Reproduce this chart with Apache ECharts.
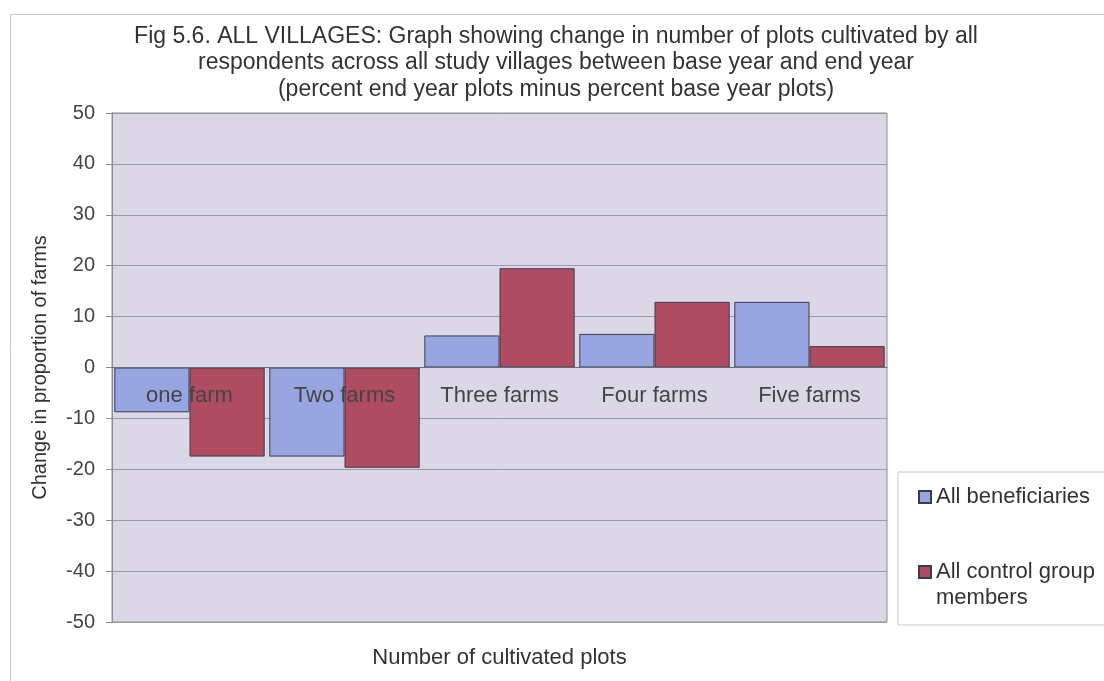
<!DOCTYPE html>
<html>
<head>
<meta charset="utf-8">
<script src="https://cdn.jsdelivr.net/npm/echarts@6/dist/echarts.min.js"></script>
<style>
html,body{margin:0;padding:0;background:#fff;}
#chart{width:1104px;height:681px;}
</style>
</head>
<body>
<div id="chart"></div>
<script>
var categories = ['one farm', 'Two farms', 'Three farms', 'Four farms', 'Five farms'];
var beneficiaries = [-8.8, -17.5, 6.3, 6.6, 12.9];
var controlGroup = [-17.5, -19.7, 19.5, 12.9, 4.2];
var seriesNames = ['All beneficiaries', 'All control group members'];
var yTicks = { min: -50, max: 50, interval: 10 };

var FONT = '"Liberation Sans", Arial, sans-serif';
var chart = echarts.init(document.getElementById('chart'));
chart.setOption({
  animation: false,
  backgroundColor: '#ffffff',
  textStyle: { fontFamily: FONT },
  graphic: [
    { type: 'line', shape: { x1: 10, y1: 14.5, x2: 1104, y2: 14.5 }, style: { stroke: '#c8c8c8', lineWidth: 1 } },
    { type: 'line', shape: { x1: 10.5, y1: 14, x2: 10.5, y2: 681 }, style: { stroke: '#c8c8c8', lineWidth: 1 } }
  ],
  title: {
    text: 'Fig 5.6. ALL VILLAGES: Graph showing change in number of plots cultivated by all\nrespondents across all study villages between base year and end year\n(percent end year plots minus percent base year plots)',
    left: 551, textAlign: 'center', top: 18,
    textStyle: { fontFamily: FONT, fontSize: 23, fontWeight: 'normal', color: '#333', lineHeight: 26.5 }
  },
  legend: {
    orient: 'vertical',
    left: 898, top: 472,
    padding: [12, 20, 14, 20],
    itemGap: 23,
    itemWidth: 12, itemHeight: 12,
    backgroundColor: '#ffffff',
    borderColor: '#c8c8c8', borderWidth: 1,
    data: seriesNames,
    formatter: function (n) { return n === 'All control group members' ? ' \nAll control group\nmembers' : n; },
    textStyle: { fontFamily: FONT, fontSize: 22, color: '#333', lineHeight: 26 },
    icon: 'rect'
  },
  grid: {
    left: 112, right: 217, top: 113, bottom: 59,
    outerBoundsMode: 'none', containLabel: false,
    show: true, backgroundColor: '#dcd7e7', borderColor: '#8c8c96', borderWidth: 1
  },
  xAxis: {
    type: 'category',
    data: categories,
    name: 'Number of cultivated plots',
    nameLocation: 'middle', nameGap: 25,
    nameTextStyle: { fontFamily: FONT, fontSize: 22, color: '#333' },
    axisLine: { onZero: true, lineStyle: { color: '#6a6a78', width: 1 } },
    axisTick: { show: false },
    axisLabel: { fontFamily: FONT, fontSize: 22, color: '#444', margin: -237 },
    z: 10
  },
  yAxis: {
    type: 'value',
    min: yTicks.min, max: yTicks.max, interval: yTicks.interval,
    name: 'Change in proportion of farms',
    nameLocation: 'middle', nameGap: 62, nameRotate: 90,
    nameTextStyle: { fontFamily: FONT, fontSize: 20, color: '#333' },
    axisLine: { show: true, lineStyle: { color: '#8c8c96' } },
    axisTick: { show: true, length: 6, lineStyle: { color: '#8c8c96' } },
    axisLabel: { fontFamily: FONT, fontSize: 20, color: '#444', margin: 17 },
    splitLine: { lineStyle: { color: '#9a98a8', width: 1 } }
  },
  series: [
    {
      name: seriesNames[0], type: 'bar', data: beneficiaries,
      barGap: '0%', barCategoryGap: '3%',
      itemStyle: { color: '#97a6e0', borderColor: '#3c3c50', borderWidth: 1 }
    },
    {
      name: seriesNames[1], type: 'bar', data: controlGroup,
      barGap: '0%', barCategoryGap: '3%',
      itemStyle: { color: '#b04c62', borderColor: '#3c3c50', borderWidth: 1 }
    }
  ]
});
</script>
</body>
</html>
